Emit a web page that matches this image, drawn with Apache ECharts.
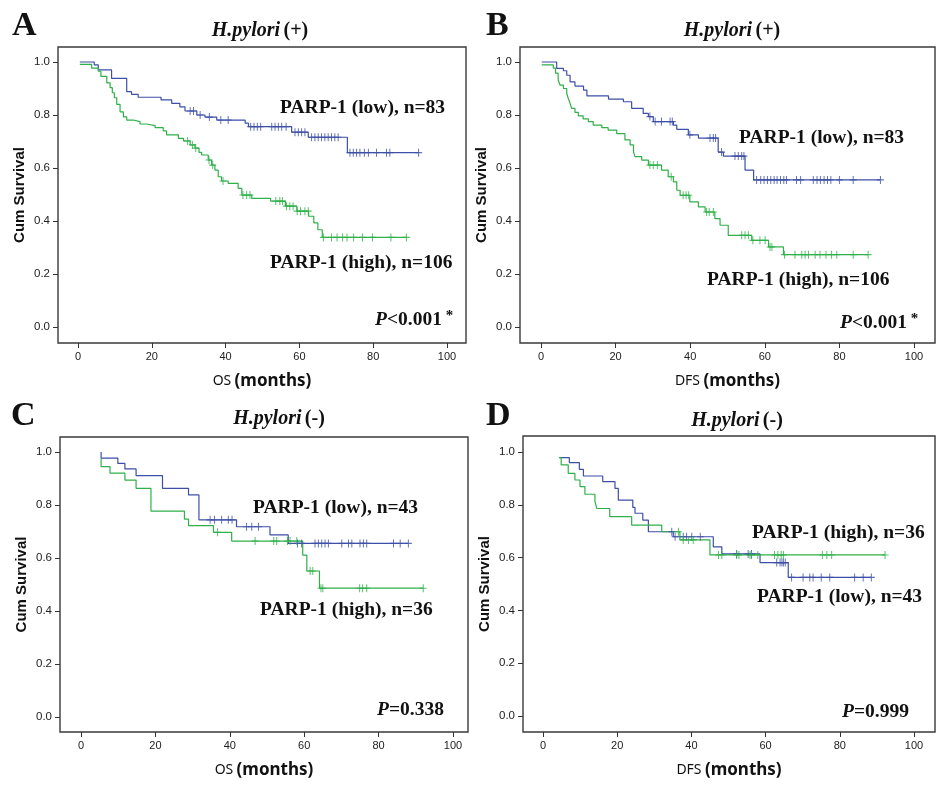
<!DOCTYPE html>
<html><head><meta charset="utf-8">
<script src="https://cdn.jsdelivr.net/npm/echarts/dist/echarts.min.js"></script>
<style>html,body{margin:0;padding:0;background:#fff}#c{width:945px;height:788px}</style>
</head><body><div id="c"></div><script>
// ---------- DATA ----------
const xTicks = [0, 20, 40, 60, 80, 100];
const yTicks = [0.0, 0.2, 0.4, 0.6, 0.8, 1.0];

// Panel A  H.pylori (+)  OS
const aLowSteps = [[0.5,1.0],[4.4,0.989],[5.5,0.970],[9.1,0.938],[13.2,0.888],[14.5,0.878],[16.3,0.867],[22.5,0.857],[25.4,0.844],[27.6,0.831],[29,0.815],[32.2,0.80],[34.4,0.792],[37.6,0.781],[45.3,0.769],[46.2,0.756],[57.9,0.735],[62.4,0.716],[73,0.658],[92.3,0.658]];
const aLowCensor = [30.4,31.3,33.1,35.6,38.7,40.7,46.8,47.7,48.6,49.5,52.5,53.4,54.3,55.2,56.4,58.8,59.7,60.6,61.5,63.3,64.2,65.1,66,66.9,67.8,68.7,69.6,70.5,73.7,74.6,75.5,76.4,77.6,78.7,80.9,83.6,84.5,92.3];
const aHighSteps = [[0.5,0.991],[3.7,0.977],[5.5,0.965],[6.2,0.946],[7.8,0.921],[8.7,0.903],[9.3,0.884],[9.85,0.865],[10.5,0.84],[11.4,0.812],[12.3,0.793],[13.2,0.781],[15,0.775],[16.8,0.766],[18.6,0.76],[20.9,0.752],[23.1,0.74],[24,0.725],[27.2,0.712],[28.6,0.702],[30.4,0.687],[31.7,0.675],[32.8,0.659],[33.5,0.649],[35.3,0.63],[36.2,0.611],[37.1,0.592],[38,0.567],[38.9,0.551],[40.7,0.542],[43.4,0.523],[44.4,0.498],[47.1,0.485],[52.2,0.475],[56.2,0.456],[59.3,0.437],[62.5,0.418],[63.9,0.393],[65,0.367],[66.2,0.338],[89,0.338]];
const aHighCensor = [29.7,31,31.9,35.5,36.5,39.3,44.7,45.7,46.6,53.6,54.7,55.4,56.5,57.4,58.3,59.4,60.3,61.5,62.4,66.5,68.7,70.2,71.7,72.9,74.7,77.1,79.8,84.8,89];

// Panel B  H.pylori (+)  DFS
const bLowSteps = [[0.2,1.0],[4.2,0.976],[6,0.967],[6.9,0.95],[7.8,0.925],[9.1,0.909],[11.4,0.894],[12.3,0.872],[18.1,0.86],[22.1,0.85],[24.3,0.825],[27.4,0.806],[28.8,0.794],[30.1,0.775],[35.5,0.762],[36.4,0.746],[39.5,0.725],[42.2,0.713],[47.5,0.66],[48.9,0.645],[54.7,0.592],[57,0.555],[91,0.555]];
const bLowCensor = [29.2,30.6,32.3,34.6,35.2,39.9,45.3,46.2,46.8,48.4,52,52.9,53.8,54.4,57.8,58.9,59.8,60.7,61.6,62.5,63.3,64.2,65.1,65.8,68.5,69.6,73,74,74.9,75.9,76.8,77.7,80,83.7,91];
const bHighSteps = [[0.2,0.989],[3.3,0.977],[3.9,0.958],[4.6,0.932],[5.1,0.913],[6,0.9],[6.9,0.881],[7.3,0.863],[7.8,0.844],[8.2,0.825],[9.1,0.81],[10,0.797],[11.3,0.785],[12.7,0.775],[14,0.762],[16.3,0.752],[18,0.743],[20.3,0.73],[22.5,0.706],[23.9,0.687],[24.8,0.661],[25.2,0.643],[27,0.63],[28.8,0.611],[32.3,0.592],[34.1,0.567],[35.5,0.548],[36.4,0.516],[37.3,0.497],[39.9,0.472],[42.2,0.453],[44,0.434],[46.6,0.409],[48,0.384],[50.2,0.346],[56.5,0.327],[61,0.302],[65,0.273],[87.7,0.273]];
const bHighCensor = [29.2,30.1,31.2,34.9,38.1,38.9,39.6,44.4,45.1,46.2,53.8,54.7,55.6,56.8,58.7,60.1,61.4,61.9,65.3,68.1,69.9,70.8,71.7,73.5,74.8,76.4,77.9,79.3,83.7,87.7];

// Panel C  H.pylori (-)  OS
const cLowSteps = [[5.4,1.0],[5.4,0.977],[9.9,0.957],[11.8,0.936],[14.8,0.911],[21.9,0.863],[28.9,0.838],[31.7,0.744],[41.8,0.718],[50.8,0.687],[55.7,0.655],[88,0.655]];
const cLowCensor = [34.7,35.9,37.8,39.6,40.6,44.5,45.9,47.7,58.2,59.3,62.9,63.8,64.7,65.6,66.5,70.1,71.9,72.8,75,75.9,76.8,84,85.8,88];
const cHighSteps = [[5.4,0.975],[5.4,0.945],[7.8,0.92],[11.8,0.894],[14.8,0.863],[18.8,0.777],[27.8,0.747],[28.9,0.722],[35.6,0.697],[40.5,0.664],[59.6,0.611],[60.7,0.551],[64.1,0.486],[92,0.486]];
const cHighCensor = [36.7,46.8,51.8,52.6,55.5,56.2,58,61.6,62.3,64.5,65,74.9,75.7,76.8,92];

// Panel D  H.pylori (-)  DFS
const dLowSteps = [[4.4,0.979],[7.1,0.96],[9.8,0.934],[10.9,0.909],[16.1,0.888],[19.4,0.862],[20.3,0.818],[24.2,0.79],[24.8,0.768],[26.9,0.742],[28.4,0.698],[35.1,0.679],[45.9,0.641],[48.2,0.614],[58.5,0.581],[66.1,0.525],[88.5,0.525]];
const dLowCensor = [34.7,35.6,37.8,38.7,40.1,42.4,52.2,55.3,56.2,63,63.9,64.4,64.8,65.3,67,70.1,71.9,72.8,75,77.3,84,86.3,88.5];
const dHighSteps = [[4.3,0.979],[4.9,0.951],[6.8,0.919],[8.6,0.894],[9.97,0.869],[11.3,0.84],[14,0.812],[14.5,0.786],[18,0.755],[23.9,0.723],[32,0.698],[36.9,0.667],[45,0.61],[92.2,0.61]];
const dHighCensor = [36.5,37.8,39.2,40.5,47.3,48.2,52.2,52.8,55.8,56.2,57.9,62.4,63.3,64.2,64.8,75.3,76.5,77.8,92.2];

const panelLetters = ['A', 'B', 'C', 'D'];
const panelGroups = ['(+)', '(+)', '(-)', '(-)'];
const panelEndpoints = ['OS', 'DFS', 'OS', 'DFS'];
const lowLabels = ['PARP-1 (low), n=83', 'PARP-1 (low), n=83', 'PARP-1 (low), n=43', 'PARP-1 (low), n=43'];
const highLabels = ['PARP-1 (high), n=106', 'PARP-1 (high), n=106', 'PARP-1 (high), n=36', 'PARP-1 (high), n=36'];
const pValues = ['<0.001', '<0.001', '=0.338', '=0.999'];
const pStars = ['*', '*', '', ''];

// ---------- LAYOUT / STYLE ----------
const BLUE = '#3d4fa6', GREEN = '#2fb04a';
// grid = plot frame; axis extents chosen so 0..100 and 0..1 land where the reference puts them
const layout = [
  {grid:{left:58, right:479, top:47, bottom:445}, xr:[-5.42,105.15], yr:[-0.0604,1.0566],
   title:[260,31], letter:[12,26], low:[280,108], high:[270,263], p:[375,320]},
  {grid:{left:520, right:10, top:47, bottom:445}, xr:[-5.63,105.63], yr:[-0.0604,1.0566],
   title:[732,31], letter:[486,26], low:[739,138], high:[707,280], p:[840,323]},
  {grid:{left:60, right:477, top:437, bottom:56}, xr:[-5.65,104.03], yr:[-0.0566,1.0566],
   title:[279,419], letter:[11,416], low:[253,508], high:[260,610], p:[377,710]},
  {grid:{left:523, right:10, top:436, bottom:56}, xr:[-5.39,105.66], yr:[-0.0606,1.0606],
   title:[737,421], letter:[486,416], low:[757,597], high:[752,533], p:[842,712]}
];
const steps = [[aLowSteps, aHighSteps], [bLowSteps, bHighSteps], [cLowSteps, cHighSteps], [dLowSteps, dHighSteps]];
const censors = [[aLowCensor, aHighCensor], [bLowCensor, bHighCensor], [cLowCensor, cHighCensor], [dLowCensor, dHighCensor]];

function survAt(st, t) {
  let y = st[0][1];
  for (const p of st) { if (p[0] <= t) y = p[1]; else break; }
  return y;
}
const CROSS = 'path://M3,0h1v3h3v1h-3v3h-1v-3h-3v-1h3z';
const SERIF = '"Liberation Serif", "Times New Roman", serif';
const SANS = '"Liberation Sans", Arial, sans-serif';
const FRAME = '#3a3a3a';

const grids = [], xAxes = [], yAxes = [], series = [], graphics = [];
layout.forEach((L, i) => {
  grids.push(Object.assign({show: true, borderColor: FRAME, borderWidth: 1.4, backgroundColor: 'transparent'}, L.grid));
  xAxes.push({
    gridIndex: i, type: 'value', min: L.xr[0], max: L.xr[1], position: 'bottom',
    axisLine: {show: false, onZero: false},
    axisTick: {show: true, length: 5, customValues: xTicks, lineStyle: {color: '#333', width: 1}},
    axisLabel: {margin: 8, fontSize: 11, color: '#222', fontFamily: SANS, customValues: xTicks},
    splitLine: {show: false},
    name: '{a|' + panelEndpoints[i] + '} {b|(months)}', nameLocation: 'middle', nameGap: 30,
    nameTextStyle: {rich: {
      a: {fontFamily: '"Noto Sans", sans-serif', fontSize: 14, color: '#111'},
      b: {fontFamily: '"Noto Sans", sans-serif', fontSize: 17, fontWeight: 'bold', color: '#111'}
    }}
  });
  yAxes.push({
    gridIndex: i, type: 'value', min: L.yr[0], max: L.yr[1], position: 'left',
    axisLine: {show: false, onZero: false},
    axisTick: {show: true, length: 5, customValues: yTicks, lineStyle: {color: '#333', width: 1}},
    axisLabel: {margin: 8, fontSize: 11.5, color: '#222', fontFamily: SANS, customValues: yTicks, formatter: v => Number(v).toFixed(1)},
    splitLine: {show: false},
    name: 'Cum Survival', nameLocation: 'middle', nameGap: 31,
    nameTextStyle: {fontFamily: SANS, fontSize: 15, fontWeight: 'bold', color: '#111'}
  });
  [0, 1].forEach(g => {
    const col = g === 0 ? BLUE : GREEN;
    series.push({
      type: 'line', xAxisIndex: i, yAxisIndex: i, step: 'end', data: steps[i][g],
      showSymbol: false, symbol: 'none', lineStyle: {color: col, width: 1.2}, silent: true, z: 3
    });
    series.push({
      type: 'scatter', xAxisIndex: i, yAxisIndex: i,
      data: censors[i][g].map(t => [t, survAt(steps[i][g], t)]),
      symbol: CROSS, symbolSize: [7, 8], itemStyle: {color: col}, silent: true, z: 4
    });
  });
  graphics.push({type: 'text', x: L.letter[0], y: L.letter[1],
    style: {text: panelLetters[i], font: 'bold 34px ' + SERIF, fill: '#111', verticalAlign: 'middle', align: 'left'}});
  graphics.push({type: 'text', x: L.title[0], y: L.title[1],
    style: {text: '{i|H.pylori} {b|' + panelGroups[i] + '}', align: 'center', verticalAlign: 'middle',
      rich: {i: {fontFamily: SERIF, fontSize: 20, fontWeight: 'bold', fontStyle: 'italic', fill: '#111'},
             b: {fontFamily: SERIF, fontSize: 20, fontWeight: 'bold', fill: '#111'}}}});
  graphics.push({type: 'text', x: L.low[0], y: L.low[1],
    style: {text: lowLabels[i], font: 'bold 19.5px ' + SERIF, fill: '#111', verticalAlign: 'middle', align: 'left'}});
  graphics.push({type: 'text', x: L.high[0], y: L.high[1],
    style: {text: highLabels[i], font: 'bold 19.5px ' + SERIF, fill: '#111', verticalAlign: 'middle', align: 'left'}});
  graphics.push({type: 'text', x: L.p[0], y: L.p[1],
    style: {text: '{i|P}{b|' + pValues[i] + '}' + (pStars[i] ? '{s| ' + pStars[i] + '}' : ''), align: 'left', verticalAlign: 'middle',
      rich: {i: {fontFamily: SERIF, fontSize: 19.5, fontWeight: 'bold', fontStyle: 'italic', fill: '#111'},
             b: {fontFamily: SERIF, fontSize: 19.5, fontWeight: 'bold', fill: '#111'},
             s: {fontFamily: SERIF, fontSize: 15, fontWeight: 'bold', fill: '#111', verticalAlign: 'top', padding: [0,0,8,0]}}}});
});

const chart = echarts.init(document.getElementById('c'), null, {renderer: 'canvas'});
chart.setOption({
  animation: false, backgroundColor: '#fff',
  grid: grids, xAxis: xAxes, yAxis: yAxes, series: series, graphic: graphics
});
</script></body></html>
